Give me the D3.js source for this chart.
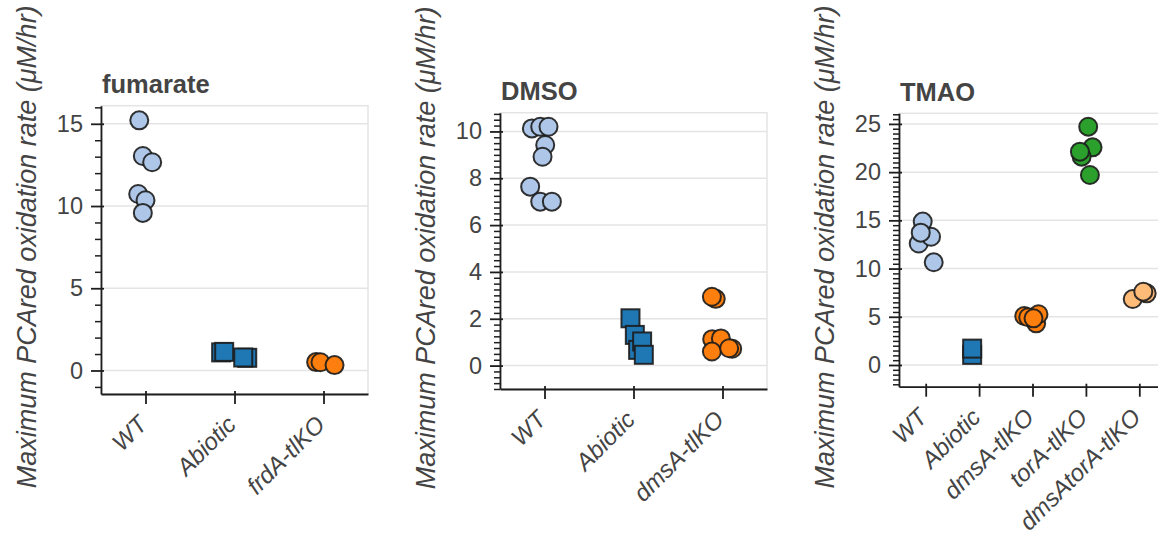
<!DOCTYPE html>
<html>
<head>
<meta charset="utf-8">
<script src="https://cdn.jsdelivr.net/npm/d3@7/dist/d3.min.js"></script>
<style>
  html, body { margin: 0; padding: 0; background: #fff; }
  svg { display: block; }
  text { font-family: "Liberation Sans", Arial, Helvetica, sans-serif; fill: #444; }
</style>
</head>
<body>
<svg id="chart" width="1158" height="537"></svg>
<script>
// ---- data: maximum PCAred oxidation rate (µM/hr) per strain, three electron acceptors ----
// jitter = horizontal offset of each replicate, as a fraction of category spacing

const fumarateCats = ["WT", "Abiotic", "frdA-tlKO"];
const fumarateValues = [
  [15.21, 13.04, 12.66, 10.73, 10.35, 9.58],
  [1.1, 1.13, 0.77, 0.79],
  [0.51, 0.5, 0.33]
];
const fumarateJitter = [
  [-0.07, -0.03, 0.075, -0.082, 0.0, -0.03],
  [-0.15, -0.116, 0.143, 0.098],
  [-0.083, -0.034, 0.124]
];

const dmsoCats = ["WT", "Abiotic", "dmsA-tlKO"];
const dmsoValues = [
  [10.13, 10.2, 10.2, 9.42, 8.92, 7.64, 7.0, 7.0],
  [2.02, 1.31, 0.67, 1.03, 0.46],
  [2.85, 2.94, 1.13, 1.16, 0.6, 0.72, 0.74]
];
const dmsoJitter = [
  [-0.142, -0.048, 0.045, 0.008, -0.022, -0.161, -0.048, 0.083],
  [-0.034, 0.015, 0.052, 0.097, 0.116],
  [-0.076, -0.119, -0.116, -0.018, -0.119, 0.109, 0.075]
];

const tmaoCats = ["WT", "Abiotic", "dmsA-tlKO", "torA-tlKO", "dmsAtorA-tlKO"];
const tmaoValues = [
  [14.87, 12.6, 13.3, 13.72, 10.65],
  [1.05, 1.7],
  [4.32, 5.08, 5.26, 4.95, 4.84],
  [24.71, 22.57, 21.6, 22.12, 19.7],
  [7.43, 6.84, 7.6]
];
const tmaoJitter = [
  [-0.056, -0.131, 0.1, -0.093, 0.15],
  [-0.13, -0.13],
  [0.069, -0.155, 0.112, -0.08, 0.019],
  [0.043, 0.125, -0.08, -0.112, 0.075],
  [0.138, -0.123, 0.075]
];

const panelTitles = ["fumarate", "DMSO", "TMAO"];
const yAxisLabel = "Maximum PCAred oxidation rate (\u03BCM/hr)";

// marker colour per strain
const strainColor = {
  "WT": "#aec7e8",
  "Abiotic": "#1f77b4",
  "frdA-tlKO": "#ff7f0e",
  "dmsA-tlKO": "#ff7f0e",
  "torA-tlKO": "#2ca02c",
  "dmsAtorA-tlKO": "#ffbb78"
};
const squareStrains = ["Abiotic"];

// ---- panel layout ----
const panels = [
  { title: panelTitles[0], cats: fumarateCats, values: fumarateValues, jitter: fumarateJitter,
    yDomain: [-1.43, 16.1], major: 5, minor: 1,
    left: 101, top: 105.7, bottom: 394, titleY: 93, labelX: 27 },
  { title: panelTitles[1], cats: dmsoCats, values: dmsoValues, jitter: dmsoJitter,
    yDomain: [-1.0, 10.8], major: 2, minor: 0.25,
    left: 500, top: 112.7, bottom: 389, titleY: 99.5, labelX: 426 },
  { title: panelTitles[2], cats: tmaoCats, values: tmaoValues, jitter: tmaoJitter,
    yDomain: [-2.25, 26.1], major: 5, minor: 0.5,
    left: 899, top: 113.3, bottom: 386.7, titleY: 101, labelX: 825 }
];
const plotWidth = 267;
const axisColor = "#1e1e1e";
const gridColor = "#e4e4e4";

const svg = d3.select("#chart");

panels.forEach(p => {
  const g = svg.append("g");
  const right = p.left + plotWidth;

  const x = d3.scalePoint().domain(p.cats).range([p.left, right]).padding(0.5);
  const y = d3.scaleLinear().domain(p.yDomain).range([p.bottom, p.top]);

  const eps = 1e-9;
  const majors = d3.range(Math.ceil(p.yDomain[0] / p.major) * p.major, p.yDomain[1] + eps, p.major);
  const minors = d3.range(Math.ceil(p.yDomain[0] / p.minor) * p.minor, p.yDomain[1] + eps, p.minor)
    .filter(v => Math.abs(v / p.major - Math.round(v / p.major)) > 1e-6);

  // plot area outline
  g.append("rect")
    .attr("x", p.left).attr("y", p.top)
    .attr("width", plotWidth).attr("height", p.bottom - p.top)
    .attr("fill", "#fff").attr("stroke", gridColor).attr("stroke-width", 1.5);

  // horizontal grid
  g.append("g").selectAll("line").data(majors).join("line")
    .attr("x1", p.left).attr("x2", right)
    .attr("y1", d => y(d)).attr("y2", d => y(d))
    .attr("stroke", gridColor).attr("stroke-width", 1.5);

  // minor y ticks
  const minorAxis = g.append("g").attr("transform", `translate(${p.left},0)`)
    .call(d3.axisLeft(y).tickValues(minors).tickSize(6).tickSizeOuter(0).tickFormat(""));
  minorAxis.select(".domain").remove();
  minorAxis.selectAll("line").attr("stroke", axisColor).attr("stroke-width", 1.5);

  // major y axis
  const yAxis = g.append("g").attr("transform", `translate(${p.left},0)`)
    .call(d3.axisLeft(y).tickValues(majors).tickSize(10).tickSizeOuter(0).tickPadding(8)
      .tickFormat(d3.format("d")));
  yAxis.select(".domain").attr("stroke", axisColor).attr("stroke-width", 1.8);
  yAxis.selectAll(".tick line").attr("x1", 3).attr("stroke", axisColor).attr("stroke-width", 1.8);
  yAxis.selectAll(".tick text")
    .attr("font-size", 23.5).attr("fill", "#444")
    .style("font-family", "'Liberation Sans', Arial, sans-serif");

  // x axis with rotated strain labels
  const xAxis = g.append("g").attr("transform", `translate(0,${p.bottom})`)
    .call(d3.axisBottom(x).tickSize(10).tickSizeOuter(0).tickFormat(""));
  xAxis.select(".domain").attr("stroke", axisColor).attr("stroke-width", 1.8);
  xAxis.selectAll(".tick line").attr("y1", -3).attr("stroke", axisColor).attr("stroke-width", 1.8);

  g.append("g").selectAll("text").data(p.cats).join("text")
    .attr("transform", d => `translate(${x(d) + 3},${p.bottom + 32}) rotate(-45)`)
    .attr("text-anchor", "end")
    .attr("font-size", 24)
    .attr("font-style", "italic")
    .text(d => d);

  // replicate markers
  const step = x.step();
  const pts = [];
  p.cats.forEach((c, i) => {
    p.values[i].forEach((v, j) => pts.push({ cat: c, value: v, jit: p.jitter[i][j] }));
  });
  const marks = g.append("g");
  pts.forEach(d => {
    const cx = x(d.cat) + d.jit * step;
    const cy = y(d.value);
    if (squareStrains.includes(d.cat)) {
      marks.append("rect")
        .attr("x", cx - 9).attr("y", cy - 9)
        .attr("width", 18).attr("height", 18)
        .attr("fill", strainColor[d.cat])
        .attr("stroke", "#1c1c1c").attr("stroke-opacity", 0.9).attr("stroke-width", 2);
    } else {
      marks.append("circle")
        .attr("cx", cx).attr("cy", cy).attr("r", 9)
        .attr("fill", strainColor[d.cat])
        .attr("stroke", "#1c1c1c").attr("stroke-opacity", 0.9).attr("stroke-width", 2);
    }
  });

  // panel title
  g.append("text")
    .attr("x", p.left + 1).attr("y", p.titleY)
    .attr("font-size", 25.5).attr("font-weight", "bold")
    .text(p.title);

  // y axis title
  g.append("text")
    .attr("transform", `translate(${p.labelX},${(p.top + p.bottom) / 2 - 3}) rotate(-90)`)
    .attr("text-anchor", "middle")
    .attr("dominant-baseline", "central")
    .attr("font-size", 27)
    .attr("font-style", "italic")
    .text(yAxisLabel);
});
</script>
</body>
</html>
